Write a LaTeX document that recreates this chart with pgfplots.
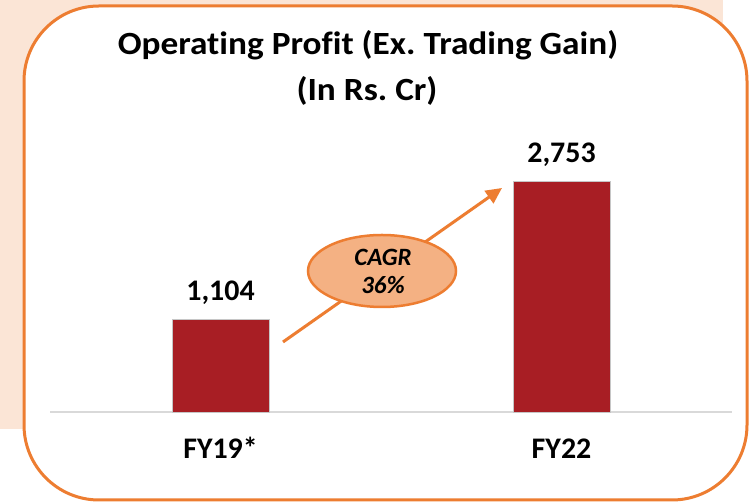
\documentclass[border=0pt]{standalone}
\usepackage{fontspec}
\setmainfont{Carlito}[Ligatures=NoCommon]
\usepackage{pgfplots}
\pgfplotsset{compat=1.18}
\usetikzlibrary{arrows.meta}
\definecolor{peach}{HTML}{FBE5D6}
\definecolor{frameorange}{HTML}{ED7D31}
\definecolor{ellfill}{HTML}{F4B183}
\definecolor{barred}{HTML}{A81E24}
\definecolor{basegray}{HTML}{D9D9D9}
\frenchspacing

\begin{document}
\begin{tikzpicture}[x=1bp,y=1bp]
\useasboundingbox (0,0) rectangle (752,502);
% background panel and rounded frame
\fill[peach] (0,73) rectangle (723,502);
\draw[frameorange, line width=3bp, fill=white, rounded corners=75bp] (24,2) rectangle (747,496);

% title
\node[anchor=base, font=\fontsize{32.5}{36}\selectfont\bfseries] at (368,447) {\scalebox{1.09}[1]{Operating Profit (Ex. Trading Gain)}};
\node[anchor=base, font=\fontsize{32.5}{36}\selectfont\bfseries] at (367,401) {\scalebox{1.09}[1]{(In Rs. Cr)}};

\begin{axis}[
  scale only axis,
  width=682bp, height=293.65bp,
  anchor=south west, at={(50bp,90bp)},
  xmin=-0.5, xmax=1.5,
  ymin=0, ymax=3500,
  axis x line*=bottom,
  axis y line=none,
  x axis line style={draw=basegray, line width=2bp, -},
  xtick={0,1},
  xticklabels={FY19*, FY22},
  xtick style={draw=none},
  xticklabel style={font=\fontsize{30}{33}\selectfont\bfseries, anchor=base, yshift=-47bp},
  /pgf/number format/assume math mode=true,
  /pgf/number format/1000 sep={,},
  clip=false,
]
\addplot[ybar, bar width=97bp, fill=barred, draw=gray!45, line width=0.8bp,
  nodes near coords,
  every node near coord/.append style={font=\fontsize{30}{33}\selectfont\bfseries, anchor=base, yshift=19bp, text=black}]
  coordinates {(0,1104) (1,2753)};
\end{axis}

% CAGR arrow and bubble
\draw[frameorange, line width=3bp, -{Triangle[length=16bp,width=15bp]}] (283,160) -- (502,314);
\draw[frameorange, line width=2.5bp, fill=ellfill] (382,231) ellipse [x radius=74, y radius=36];
\node[anchor=base, font=\fontsize{25}{28}\selectfont\bfseries\itshape] at (383,236) {CAGR};
\node[anchor=base, font=\fontsize{25}{28}\selectfont\bfseries\itshape] at (383,208) {36\%};
\end{tikzpicture}
\end{document}
